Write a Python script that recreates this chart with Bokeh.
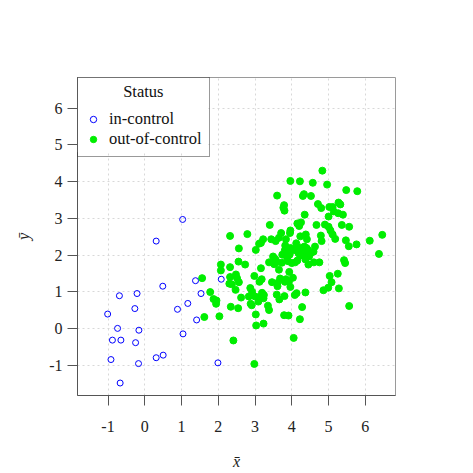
from bokeh.plotting import figure
from bokeh.models import Legend, LegendItem, FixedTicker, Label, Range1d, BoxAnnotation
from bokeh.embed import file_html
from bokeh.resources import INLINE

# in-control points
in_x = [1.03, 0.31, 0.49, 1.38, 2.08, 1.53, 1.17, 0.89, 1.41, 1.04, 1.99, 0.50, 0.31,
        -0.17, -0.67, -0.92, -0.88, -0.65, -0.25, -0.16, -0.74, -1.01, -0.27, -0.69, -0.21]
in_y = [2.97, 2.38, 1.15, 1.30, 1.34, 0.95, 0.68, 0.52, 0.23, -0.15, -0.94, -0.73, -0.80,
        -0.96, -1.49, -0.85, -0.32, -0.32, -0.39, -0.05, 0.00, 0.39, 0.54, 0.89, 0.95]

# out-of-control points
out_x = [4.83, 3.96, 4.22, 4.57, 4.96, 5.48, 5.78, 3.60, 4.33, 4.30, 4.52, 4.71, 4.80, 3.79,
         3.77, 3.80, 5.02, 5.11, 5.27, 5.32, 5.14, 5.26, 5.39, 4.35, 5.00, 3.40, 4.15, 4.25,
         4.20, 4.67, 4.90, 5.00, 5.05, 5.36, 5.56, 3.96, 3.95, 3.71, 4.38, 4.79, 5.11, 5.18,
         2.32, 2.79, 3.44, 3.56, 3.65, 3.84, 4.23, 4.41, 4.81, 5.47, 6.12, 6.46, 3.22, 3.16,
         3.11, 3.82, 4.12, 4.23, 3.96, 4.34, 4.40, 4.63, 5.76, 5.55, 2.56, 3.02, 3.81, 4.04,
         4.19, 4.31, 4.44, 4.59, 6.37, 3.49, 3.55, 3.74, 3.87, 3.94, 4.23, 4.39, 4.47, 4.51,
         4.37, 2.07, 2.07, 2.32, 2.55, 2.73, 3.16, 3.38, 3.60, 3.73, 3.90, 4.00, 4.09, 4.15,
         4.45, 4.60, 4.75, 5.42, 5.45, 3.52, 3.65, 3.93, 1.56, 2.32, 2.48, 2.51, 2.98, 3.18,
         3.12, 3.68, 3.84, 4.03, 5.25, 5.03, 2.30, 2.37, 2.56, 3.46, 3.61, 3.61, 3.81, 3.92,
         2.47, 2.87, 2.92, 3.19, 3.96, 4.13, 4.08, 4.37, 4.86, 4.99, 5.08, 5.28, 1.78, 1.87,
         1.95, 1.94, 2.62, 2.83, 3.00, 3.10, 3.24, 3.59, 3.66, 3.80, 3.23, 2.34, 2.54, 2.88,
         2.91, 3.09, 3.35, 3.38, 4.28, 5.56, 1.62, 2.03, 3.02, 3.79, 3.91, 4.22, 3.03, 3.23,
         2.41, 4.05, 2.98, 4.12, 4.29, 4.25, 4.18]
out_y = [4.30, 4.02, 4.01, 3.97, 3.92, 3.77, 3.74, 3.62, 3.66, 3.61, 3.61, 3.39, 3.28, 3.36,
         3.29, 3.21, 3.31, 3.31, 3.43, 3.38, 3.19, 3.14, 3.10, 3.10, 3.05, 2.82, 2.86, 2.89,
         2.79, 2.82, 2.83, 2.77, 2.67, 2.82, 2.77, 2.67, 2.60, 2.60, 2.56, 2.53, 2.56, 2.44,
         2.52, 2.57, 2.43, 2.38, 2.47, 2.43, 2.51, 2.43, 2.38, 2.40, 2.39, 2.55, 2.43, 2.33,
         2.31, 2.26, 2.32, 2.20, 2.19, 2.23, 2.19, 2.23, 2.29, 2.24, 2.18, 2.14, 2.13, 2.13,
         2.11, 2.13, 2.14, 2.09, 2.03, 1.96, 1.89, 2.01, 1.94, 2.01, 1.99, 2.01, 1.96, 2.05,
         1.88, 1.74, 1.58, 1.67, 1.82, 1.74, 1.64, 1.80, 1.81, 1.79, 1.83, 1.78, 1.80, 1.85,
         1.74, 1.80, 1.80, 1.86, 1.78, 1.75, 1.60, 1.54, 1.37, 1.40, 1.47, 1.37, 1.43, 1.34,
         1.27, 1.36, 1.34, 1.38, 1.49, 1.43, 1.22, 1.20, 1.26, 1.26, 1.24, 1.15, 1.27, 1.27,
         1.05, 1.10, 1.00, 0.97, 1.13, 0.96, 0.91, 0.98, 1.04, 1.11, 1.26, 1.09, 0.99, 0.80,
         0.76, 0.67, 0.84, 0.87, 0.87, 0.85, 0.91, 0.92, 0.79, 0.88, 0.82, 0.59, 0.55, 0.67,
         0.63, 0.73, 0.62, 0.50, 0.58, 0.61, 0.31, 0.33, 0.38, 0.36, 0.35, 0.25, 0.08, 0.13,
         -0.33, -0.26, -0.97, 2.17, 2.05, 2.10, 2.05]

ticks = [-1, 0, 1, 2, 3, 4, 5, 6]
tick_labels = {t: str(t) for t in ticks}

SERIF = "'Liberation Serif', 'Times New Roman', serif"
GREEN = "#00ee00"

p = figure(frame_width=318, frame_height=318, output_backend="svg", toolbar_location=None,
           x_range=Range1d(-1.83, 6.82), y_range=Range1d(-1.83, 6.84),
           min_border_left=77, min_border_top=77, min_border_right=70, min_border_bottom=70,
           background_fill_color="white", border_fill_color="white")

p.outline_line_color = "#9a9a9a"
p.outline_line_width = 1

for ax, lab in ((p.xaxis[0], "x\u0304"), (p.yaxis[0], "\u0233")):
    ax.ticker = FixedTicker(ticks=ticks)
    ax.major_label_overrides = tick_labels
    ax.axis_label = lab
    ax.axis_label_text_font = SERIF
    ax.axis_label_text_font_style = "italic"
    ax.axis_label_text_font_size = "16px"
    ax.axis_label_text_color = "#222222"
    ax.major_label_text_font = SERIF
    ax.major_label_text_font_size = "16px"
    ax.major_label_text_color = "#222222"
    ax.axis_line_color = "#555555"
    ax.major_tick_line_color = "#555555"
    ax.major_tick_in = 0
    ax.major_tick_out = 10
    ax.minor_tick_line_color = None

p.xaxis[0].major_label_standoff = 15
p.xaxis[0].axis_label_standoff = 18
p.yaxis[0].major_label_standoff = 5
p.yaxis[0].axis_label_standoff = 14

p.xgrid[0].ticker = FixedTicker(ticks=ticks)
p.ygrid[0].ticker = FixedTicker(ticks=ticks)
for g in (p.xgrid[0], p.ygrid[0]):
    g.grid_line_color = "#d8d8d8"
    g.grid_line_dash = "2 3"
    g.grid_line_width = 1

r_out = p.scatter(out_x, out_y, marker="circle", size=7, fill_color=GREEN, line_color=GREEN)
r_in = p.scatter(in_x, in_y, marker="circle", size=6, fill_color=None, line_color="blue",
                 line_width=1)

# white backing for the legend box (legend itself is transparent so its title label shows)
p.add_layout(BoxAnnotation(left=-1.83, right=1.73, bottom=4.80, top=6.84,
                           fill_color="white", fill_alpha=1, line_color=None))

legend = Legend(items=[LegendItem(label="in-control", renderers=[r_in]),
                       LegendItem(label="out-of-control", renderers=[r_out])],
                location="top_left", margin=0, padding=7, spacing=0,
                glyph_width=16, glyph_height=16, label_height=18, label_standoff=8,
                label_text_font=SERIF, label_text_font_size="16.5px", label_text_color="#111111",
                title="Status", title_text_font=SERIF, title_text_font_size="16px",
                title_text_alpha=0, title_standoff=6,
                border_line_color="#333333", border_line_width=1,
                background_fill_color="white", background_fill_alpha=0)
p.add_layout(legend)

p.add_layout(Label(x=-0.04, y=6.45, text="Status", text_align="center", text_baseline="middle",
                   text_font=SERIF, text_font_size="16.5px", text_color="#111111"))

open("out.html", "w").write(file_html(p, INLINE))
